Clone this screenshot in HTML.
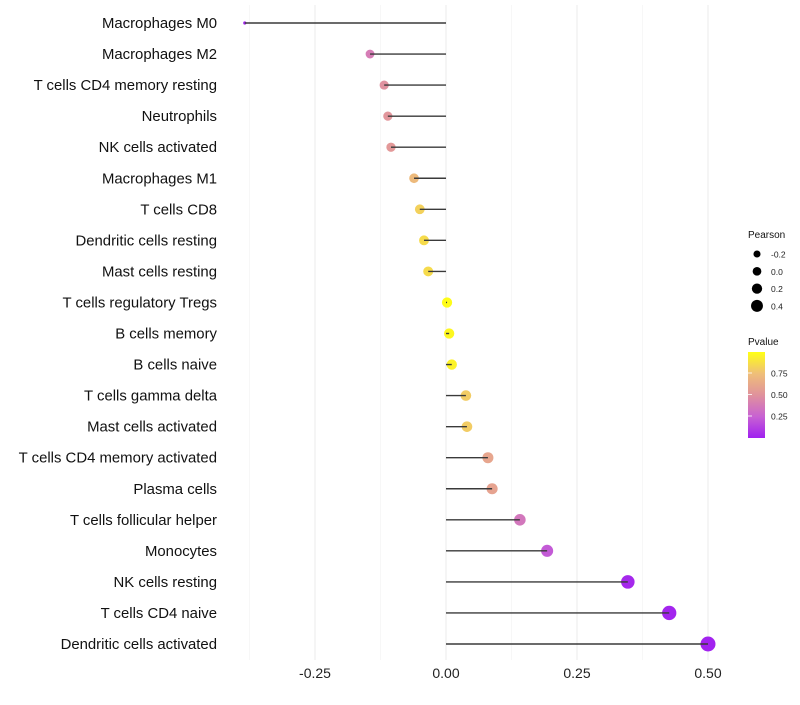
<!DOCTYPE html>
<html><head><meta charset="utf-8"><style>
body{margin:0;background:#fff;font-family:"Liberation Sans",sans-serif}
</style></head><body>
<svg id="chart" width="800" height="700" xmlns="http://www.w3.org/2000/svg">
<defs><linearGradient id="pg" x1="0" y1="1" x2="0" y2="0">
<stop offset="0" stop-color="#a020f0"/><stop offset="0.25" stop-color="#c862d2"/><stop offset="0.5" stop-color="#e0929c"/><stop offset="0.75" stop-color="#efbf78"/><stop offset="1" stop-color="#ffff14"/></linearGradient></defs>
<g id="grid"></g><g id="points"></g><g id="stems"></g><g id="labels"></g><g id="legend"></g>
</svg>
<script>
const categories=["Macrophages M0","Macrophages M2","T cells CD4 memory resting","Neutrophils","NK cells activated","Macrophages M1","T cells CD8","Dendritic cells resting","Mast cells resting","T cells regulatory  Tregs ","B cells memory","B cells naive","T cells gamma delta","Mast cells activated","T cells CD4 memory activated","Plasma cells","T cells follicular helper","Monocytes","NK cells resting","T cells CD4 naive","Dendritic cells activated"];
const pearson=[-0.384,-0.145,-0.118,-0.111,-0.105,-0.061,-0.050,-0.042,-0.034,0.002,0.006,0.011,0.038,0.040,0.080,0.088,0.141,0.193,0.347,0.426,0.500];
const pvalue=[0.01,0.38,0.48,0.5,0.52,0.72,0.82,0.86,0.86,0.99,0.97,0.95,0.8,0.8,0.6,0.58,0.35,0.22,0.03,0.02,0.01];
const xTicks=[-0.25,0,0.25,0.5];
const xTickLabels=["-0.25","0.00","0.25","0.50"];
const sizeLegend=[-0.2,0,0.2,0.4];
const pTicks=[0.25,0.5,0.75];
const NS="http://www.w3.org/2000/svg";
const X=v=>446+v*524;
const Y=i=>23+i*31.05;
const R=v=>v<-0.3?1.6:Math.max(1.5,5.12+4.76*v);
const stops=[[0,[160,32,240]],[0.25,[200,98,210]],[0.5,[226,150,156]],[0.75,[239,191,120]],[1,[255,255,20]]];
function col(p){for(let k=1;k<stops.length;k++){if(p<=stops[k][0]){const a=stops[k-1],b=stops[k],t=(p-a[0])/(b[0]-a[0]);return "rgb("+a[1].map((c,j)=>Math.round(c+(b[1][j]-c)*t)).join(",")+")";}}return "rgb(255,255,20)";}
function mk(t,attrs,parent){const e=document.createElementNS(NS,t);for(const k in attrs)e.setAttribute(k,attrs[k]);document.getElementById(parent).appendChild(e);return e;}
[-0.375,-0.125,0.125,0.375].forEach(v=>{const l=mk("line",{x1:X(v),x2:X(v),y1:5,y2:660,stroke:"#f2f2f2","stroke-width":0.6},"grid");

});
xTicks.forEach((v,i)=>{const l=mk("line",{x1:X(v),x2:X(v),y1:5,y2:660,stroke:"#ebebeb","stroke-width":1},"grid");


const t=mk("text",{x:X(v),y:678,"text-anchor":"middle","font-size":14,fill:"#222"},"labels");t.textContent=xTickLabels[i];

});
categories.forEach((c,i)=>{const y=Y(i);
const d=mk("circle",{cx:X(pearson[i]),cy:y,r:R(pearson[i]),fill:col(pvalue[i])},"points");


const s=mk("line",{x1:X(0),x2:X(pearson[i]),y1:y,y2:y,stroke:"#3a3a3a","stroke-width":1.4},"stems");


const t=mk("text",{x:217,y:y+5,"text-anchor":"end","font-size":14.9,fill:"#111"},"labels");t.textContent=c;

});
const tt=mk("text",{x:748,y:238,"font-size":10,fill:"#111"},"legend");tt.textContent="Pearson";


sizeLegend.forEach((v,i)=>{const y=254+i*17.3;
const c=mk("circle",{cx:757,cy:y,r:R(v)*0.85,fill:"#000"},"legend");


const t=mk("text",{x:771,y:y+3.5,"font-size":8.5,fill:"#222"},"legend");t.textContent=v.toFixed(1);

});
const pt=mk("text",{x:748,y:345,"font-size":10,fill:"#111"},"legend");pt.textContent="Pvalue";


const bar=mk("rect",{x:748,y:352,width:17,height:86,fill:"url(#pg)"},"legend");


pTicks.forEach(p=>{const y=437.5-p*86;
const t=mk("text",{x:771,y:y+3.5,"font-size":8.5,fill:"#222"},"legend");t.textContent=p.toFixed(2);


const l=mk("line",{x1:748,x2:752,y1:y,y2:y,stroke:"#fff","stroke-width":0.8},"legend");

});
</script>
</body></html>
